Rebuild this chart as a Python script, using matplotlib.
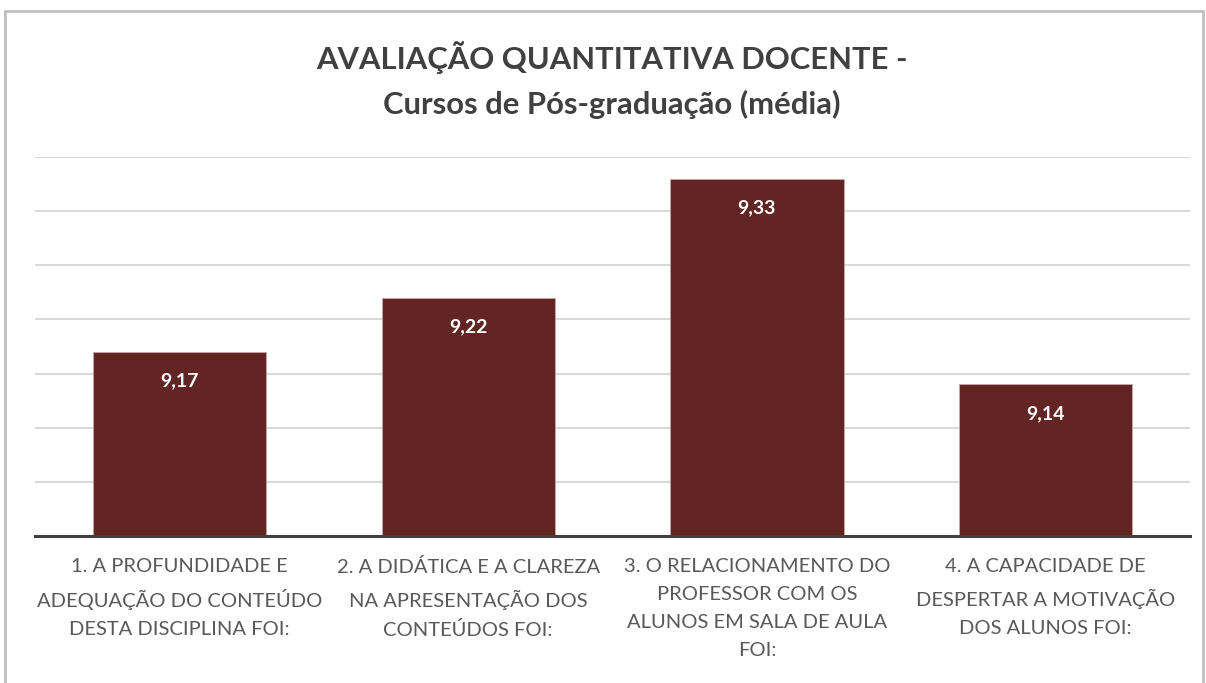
import matplotlib.pyplot as plt
from matplotlib.patches import Rectangle

categorias = [
    "1. A PROFUNDIDADE E\nADEQUAÇÃO DO CONTEÚDO\nDESTA DISCIPLINA FOI:",
    "2. A DIDÁTICA E A CLAREZA\nNA APRESENTAÇÃO DOS\nCONTEÚDOS FOI:",
    "3. O RELACIONAMENTO DO\nPROFESSOR COM OS\nALUNOS EM SALA DE AULA\nFOI:",
    "4. A CAPACIDADE DE\nDESPERTAR A MOTIVAÇÃO\nDOS ALUNOS FOI:",
]
medias = [9.17, 9.22, 9.33, 9.14]
rotulos = ["9,17", "9,22", "9,33", "9,14"]

plt.rcParams['font.family'] = ['Lato', 'DejaVu Sans']

fig = plt.figure(figsize=(12.06, 6.83), dpi=100)
ax = fig.add_axes([35 / 1206, 1 - 536 / 683, 1155 / 1206, 379 / 683])

x = range(len(medias))
bars = ax.bar(x, [m - 9.0 for m in medias], bottom=9.0, width=0.6,
              color='#632523', edgecolor='#c9a9a9', linewidth=0.6, zorder=3)

for b, txt in zip(bars, rotulos):
    ax.annotate(txt, (b.get_x() + b.get_width() / 2, b.get_y() + b.get_height()),
                xytext=(0, -21), textcoords='offset points', ha='center', va='center',
                color='white', fontsize=14, fontweight='bold', zorder=4)

ax.set_xlim(-0.5, 3.5)
ax.set_ylim(9.0, 9.35)
ax.set_yticks([9.05, 9.10, 9.15, 9.20, 9.25, 9.30, 9.35])
ax.yaxis.grid(True, color='#d9d9d9', linewidth=1.5, zorder=0)
ax.tick_params(axis='y', left=False, labelleft=False)
ax.set_xticks(list(x))
ax.set_xticklabels(categorias, fontsize=14.5, color='#595959', linespacing=1.78)
ax.tick_params(axis='x', length=0, pad=16)
for s in ['top', 'right', 'left']:
    ax.spines[s].set_visible(False)
ax.spines['bottom'].set_color('#404040')
ax.spines['bottom'].set_linewidth(2.2)
ax.spines['bottom'].set_zorder(5)

fig.text(0.507, 1 - 80 / 683, "AVALIAÇÃO QUANTITATIVA DOCENTE -\nCursos de Pós-graduação (média)",
         ha='center', va='center', fontsize=22.3, fontweight='bold', color='#404040',
         linespacing=1.65)

# borda do gráfico
fig.patches.append(Rectangle((4.5 / 1206, -0.05), 1198 / 1206, 1.05 - 11 / 683,
                             transform=fig.transFigure, fill=False,
                             edgecolor='#bfbfbf', linewidth=2))

fig.savefig('out.png', dpi=100)
